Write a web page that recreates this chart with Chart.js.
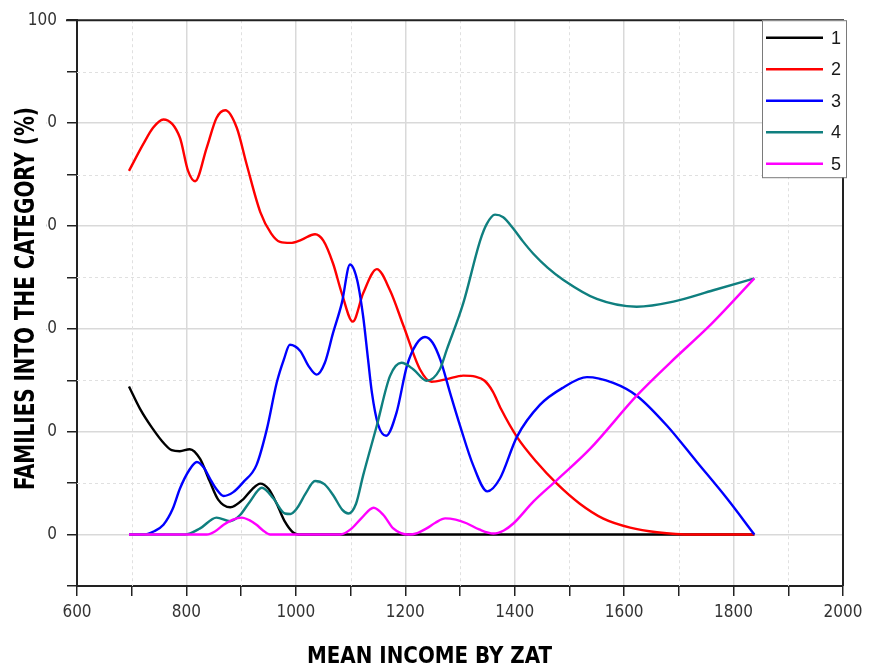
<!DOCTYPE html>
<html>
<head>
<meta charset="utf-8">
<script src="https://cdn.jsdelivr.net/npm/chart.js@4/dist/chart.umd.min.js"></script>
<style>
  html, body { margin: 0; padding: 0; background: #ffffff; }
  #wrap { width: 869px; height: 670px; }
</style>
</head>
<body>
<div id="wrap"><canvas id="chart" width="869" height="670"></canvas></div>
<script>
// Share of families in each category (%) against mean income by ZAT
const seriesNames = ['1', '2', '3', '4', '5'];
const seriesColors = ['#000000', '#ff0000', '#0000ff', '#0f7f7f', '#ff00ff'];

const income1 = [695, 715, 737, 760, 773, 788, 806, 825, 842, 858, 880, 905, 920, 935, 950, 965, 980, 995, 1005, 1838];
const share1  = [28.8, 24.5, 20.8, 17.6, 16.4, 16.2, 16.6, 14.7, 10.5, 6.8, 5.3, 7.0, 8.8, 9.9, 8.9, 6.0, 2.5, 0.4, 0, 0];

const income2 = [695, 721, 739, 758, 788, 803, 816, 837, 855, 871, 892, 910, 935, 955, 971, 990, 1010, 1035, 1050, 1068, 1084, 1104, 1123, 1148, 1172, 1197, 1227, 1248, 1275, 1306, 1328, 1345, 1360, 1375, 1404, 1440, 1477, 1519, 1562, 1611, 1660, 1726, 1838];
const share2  = [70.7, 75.9, 79.1, 80.7, 77.2, 70.7, 68.7, 75.2, 81.0, 82.5, 79.1, 72.0, 62.7, 58.5, 56.9, 56.7, 57.3, 58.4, 57.2, 52.7, 46.9, 41.4, 46.9, 51.6, 47.5, 40.5, 32.1, 29.7, 30.2, 30.9, 30.7, 29.9, 27.8, 24.4, 19.0, 14.1, 9.9, 6.0, 3.1, 1.35, 0.45, 0, 0];

const income3 = [695, 721, 740, 758, 775, 788, 805, 819, 832, 843, 855, 868, 885, 904, 928, 947, 965, 978, 989, 1008, 1023, 1038, 1053, 1068, 1084, 1099, 1112, 1123, 1132, 1139, 1150, 1165, 1184, 1203, 1220, 1236, 1250, 1264, 1282, 1300, 1324, 1350, 1373, 1404, 1446, 1489, 1532, 1580, 1623, 1678, 1733, 1788, 1838];
const share3  = [0, 0, 0.6, 1.9, 5.0, 8.9, 12.5, 14.1, 13.0, 10.9, 8.8, 7.5, 8.2, 10.2, 13.5, 20.5, 29.5, 34.0, 36.9, 35.7, 32.8, 31.1, 33.4, 39.2, 45.0, 52.5, 49.5, 42.4, 34.0, 27.6, 21.5, 19.2, 23.7, 32.8, 37.0, 38.4, 37.3, 34.0, 27.5, 21.2, 13.5, 8.4, 10.9, 19.0, 25.2, 28.6, 30.6, 29.5, 27.0, 21.2, 14.1, 7.0, 0];

const income4 = [695, 797, 825, 855, 880, 898, 916, 938, 959, 980, 990, 1002, 1018, 1035, 1052, 1068, 1085, 1096, 1110, 1123, 1148, 1172, 1193, 1215, 1239, 1263, 1276, 1306, 1337, 1349, 1364, 1379, 1398, 1415, 1434, 1460, 1489, 1550, 1623, 1690, 1763, 1838];
const share4  = [0, 0, 1.2, 3.3, 2.6, 3.8, 6.4, 9.1, 7.0, 4.1, 4.0, 5.1, 8.0, 10.4, 9.8, 7.7, 4.8, 4.1, 6.0, 11.5, 21.2, 30.8, 33.4, 32.1, 29.9, 32.1, 36.0, 45.0, 57.2, 60.4, 62.2, 61.7, 59.4, 57.0, 54.6, 51.9, 49.5, 45.8, 44.3, 45.3, 47.5, 49.8];

const income5 = [695, 837, 852, 868, 885, 901, 915, 928, 940, 953, 1081, 1100, 1120, 1142, 1160, 1178, 1192, 1206, 1222, 1239, 1255, 1273, 1292, 1312, 1335, 1361, 1380, 1398, 1434, 1477, 1538, 1623, 1684, 1760, 1838];
const share5  = [0, 0, 0.6, 1.9, 2.9, 3.3, 2.8, 1.9, 0.8, 0, 0, 1.0, 3.2, 5.2, 3.8, 1.2, 0.3, 0, 0.3, 1.2, 2.3, 3.15, 2.9, 2.2, 1.0, 0.2, 0.8, 2.2, 6.4, 10.6, 16.7, 27.0, 33.4, 41.0, 49.8];

const xMajorTicks = [600, 800, 1000, 1200, 1400, 1600, 1800, 2000];
const yMajorTicks = [0, 20, 40, 60, 80, 100];

const xTitle = 'MEAN INCOME BY ZAT';
const yTitle = 'FAMILIES INTO THE CATEGORY (%)';

const incomes = [income1, income2, income3, income4, income5];
const shares = [share1, share2, share3, share4, share5];

const AXIS_COLOR = '#222222';
const GRID_MAJOR = '#d9d9d9';
const GRID_MINOR = '#e0e0e0';
const TICK_FONT = { family: '"Liberation Sans Narrow", "DejaVu Sans Condensed", "Liberation Sans", Arial, sans-serif', size: 17 };

const datasets = seriesNames.map((name, i) => ({
  label: name,
  data: incomes[i].map((x, k) => ({ x: x, y: shares[i][k] })),
  borderColor: seriesColors[i],
  backgroundColor: seriesColors[i],
  borderWidth: 2.4,
  pointRadius: 0,
  pointHoverRadius: 0,
  fill: false,
  cubicInterpolationMode: 'monotone',
  order: seriesNames.length - i   // later series drawn over earlier ones
}));

// Dotted minor grid lines between the solid major ones
const minorGrid = {
  id: 'minorGrid',
  beforeDatasetsDraw(chart) {
    const { ctx, chartArea: a, scales: { x, y } } = chart;
    ctx.save();
    ctx.strokeStyle = GRID_MINOR;
    ctx.lineWidth = 1;
    ctx.setLineDash([3, 3]);
    x.ticks.forEach(t => {
      if (xMajorTicks.includes(t.value)) return;
      const px = Math.round(x.getPixelForValue(t.value)) + 0.5;
      ctx.beginPath(); ctx.moveTo(px, a.top); ctx.lineTo(px, a.bottom); ctx.stroke();
    });
    y.ticks.forEach(t => {
      if (yMajorTicks.includes(t.value) || t.value < 0) return;
      const py = Math.round(y.getPixelForValue(t.value)) + 0.5;
      ctx.beginPath(); ctx.moveTo(a.left, py); ctx.lineTo(a.right, py); ctx.stroke();
    });
    ctx.restore();
  }
};

// Draws a text line squeezed to a given width
function drawFitted(ctx, text, font, width) {
  ctx.font = font;
  const w = ctx.measureText(text).width;
  ctx.save();
  ctx.scale(width / w, 1);
  ctx.fillText(text, 0, 0);
  ctx.restore();
}

// Frame, axis titles and the boxed legend
const decorations = {
  id: 'decorations',
  afterDraw(chart) {
    const { ctx, chartArea: a } = chart;
    ctx.save();

    // top and right edges of the frame
    ctx.strokeStyle = AXIS_COLOR;
    ctx.lineWidth = 2;
    ctx.beginPath();
    ctx.moveTo(a.left - 11, a.top);
    ctx.lineTo(a.right, a.top);
    ctx.lineTo(a.right, a.bottom);
    ctx.stroke();

    // y title on a white band
    const titleFont = 'bold 27px "Liberation Sans Narrow", "DejaVu Sans Condensed", "Liberation Sans", Arial, sans-serif';
    const cy = (a.top + a.bottom) / 2 - 4;
    ctx.fillStyle = '#ffffff';
    ctx.fillRect(0, cy - 200, 46, 400);
    ctx.fillStyle = '#000000';
    ctx.textAlign = 'left';
    ctx.textBaseline = 'alphabetic';
    ctx.save();
    ctx.translate(34, cy + 191);
    ctx.rotate(-Math.PI / 2);
    drawFitted(ctx, yTitle, titleFont, 383);
    ctx.restore();

    // x title
    ctx.save();
    ctx.translate(307, 663);
    drawFitted(ctx, xTitle, 'bold 23px "Liberation Sans Narrow", "DejaVu Sans Condensed", "Liberation Sans", Arial, sans-serif', 245);
    ctx.restore();

    // legend
    const bx = a.right - 81, by = a.top, bw = 84, bh = 157;
    ctx.fillStyle = '#ffffff';
    ctx.fillRect(bx, by, bw, bh);
    ctx.strokeStyle = '#7a7a7a';
    ctx.lineWidth = 1;
    ctx.strokeRect(bx + 0.5, by + 0.5, bw, bh);
    ctx.font = '18px "Liberation Sans", Arial, sans-serif';
    ctx.textBaseline = 'middle';
    ctx.textAlign = 'left';
    seriesNames.forEach((name, i) => {
      const ly = by + 17.5 + i * 31.5;
      ctx.strokeStyle = seriesColors[i];
      ctx.lineWidth = 2.4;
      ctx.beginPath(); ctx.moveTo(bx + 4, ly); ctx.lineTo(bx + 61, ly); ctx.stroke();
      ctx.fillStyle = '#1a1a1a';
      ctx.fillText(name, bx + 69, ly + 1);
    });

    ctx.restore();
  }
};

new Chart(document.getElementById('chart'), {
  type: 'line',
  data: { datasets },
  options: {
    responsive: false,
    animation: false,
    devicePixelRatio: 1,
    layout: { padding: { top: 15, right: 26, left: 0, bottom: 0 } },
    plugins: { legend: { display: false }, tooltip: { enabled: false } },
    scales: {
      x: {
        type: 'linear',
        min: 600, max: 2000,
        afterFit(scale) { scale.height = 84; },
        ticks: {
          stepSize: 100,
          autoSkip: false,
          maxRotation: 0,
          padding: 6,
          color: '#333333',
          font: TICK_FONT,
          callback: v => xMajorTicks.includes(v) ? String(v) : ''
        },
        grid: {
          color: c => (c.tick && xMajorTicks.includes(c.tick.value) && c.tick.value !== 600 && c.tick.value !== 2000) ? GRID_MAJOR : 'rgba(0,0,0,0)',
          lineWidth: 1.5,
          drawTicks: true,
          tickLength: 10,
          tickColor: AXIS_COLOR,
          tickWidth: 1.5
        },
        border: { display: true, color: AXIS_COLOR, width: 2 }
      },
      y: {
        type: 'linear',
        min: -10, max: 100,
        afterFit(scale) { scale.width = 77; },
        ticks: {
          stepSize: 10,
          autoSkip: false,
          padding: 10,
          color: '#333333',
          font: TICK_FONT,
          callback: v => yMajorTicks.includes(v) ? String(v) : ''
        },
        grid: {
          color: c => (c.tick && yMajorTicks.includes(c.tick.value) && c.tick.value !== 100) ? GRID_MAJOR : 'rgba(0,0,0,0)',
          lineWidth: 1.5,
          drawTicks: true,
          tickLength: 10,
          tickColor: AXIS_COLOR,
          tickWidth: 1.5
        },
        border: { display: true, color: AXIS_COLOR, width: 2 }
      }
    }
  },
  plugins: [minorGrid, decorations]
});
</script>
</body>
</html>
